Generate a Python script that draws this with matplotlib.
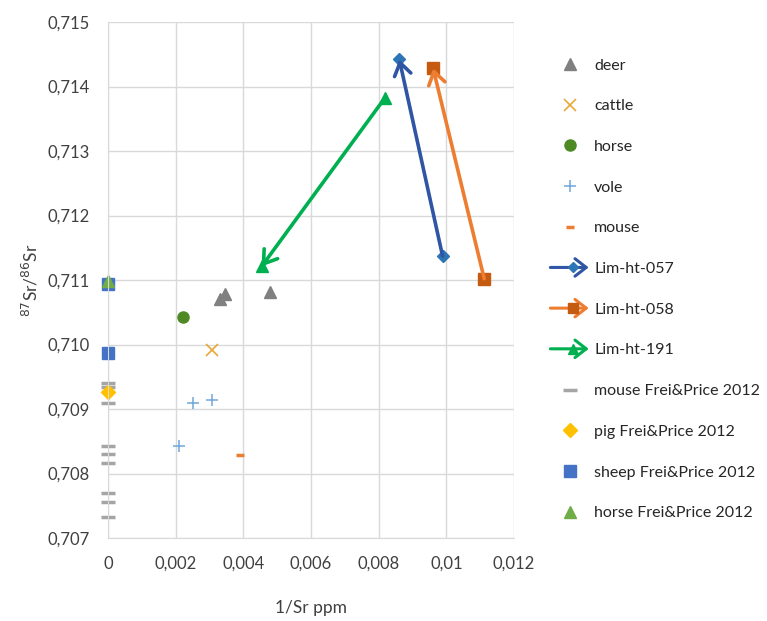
import matplotlib
matplotlib.use("Agg")
import matplotlib.pyplot as plt
from matplotlib.lines import Line2D
from matplotlib.patches import FancyArrowPatch
from matplotlib.ticker import MultipleLocator, FuncFormatter

plt.rcParams['font.family'] = ['Lato', 'DejaVu Sans']

# point samples (1/Sr ppm, 87Sr/86Sr)
deer_x = [0.00331, 0.00346, 0.00479]
deer_y = [0.71070, 0.71078, 0.71081]
cattle_x = [0.00306]
cattle_y = [0.70992]
horse_x = [0.00223]
horse_y = [0.71042]
vole_x = [0.00250, 0.00306, 0.00210]
vole_y = [0.70909, 0.70914, 0.70842]
mouse_x = [0.00390]
mouse_y = [0.70829]

# two-point series drawn as arrows (start -> end)
lim057_x = [0.00989, 0.00861]
lim057_y = [0.71137, 0.71442]
lim058_x = [0.01112, 0.00961]
lim058_y = [0.71102, 0.71428]
lim191_x = [0.00818, 0.00454]
lim191_y = [0.71382, 0.71121]

# Frei & Price 2012 reference values (all at x = 0)
fp_mouse_y = [0.70941, 0.70934, 0.70909, 0.70842, 0.70830, 0.70817,
              0.70769, 0.70756, 0.70732]
fp_pig_y = [0.70927]
fp_sheep_y = [0.71094, 0.70987]
fp_horse_y = [0.71098]


class ArrowHandler:
    def __init__(self, color, mcolor, marker, ms):
        self.color = color
        self.mcolor = mcolor
        self.marker = marker
        self.ms = ms

    def legend_artist(self, legend, orig_handle, fontsize, handlebox):
        x0, y0 = handlebox.xdescent, handlebox.ydescent
        w, h = handlebox.width, handlebox.height
        arr = FancyArrowPatch((x0, y0 + h / 2), (x0 + w, y0 + h / 2),
                              arrowstyle='->,head_length=0.45,head_width=0.35',
                              mutation_scale=18, color=self.color, lw=2.2,
                              shrinkA=0, shrinkB=0,
                              transform=handlebox.get_transform())
        mk = Line2D([x0 + w * 0.6], [y0 + h / 2], marker=self.marker,
                    color=self.mcolor, ms=self.ms * 0.9, linestyle='none',
                    transform=handlebox.get_transform())
        handlebox.add_artist(arr)
        handlebox.add_artist(mk)
        return arr


fig = plt.figure(figsize=(7.67, 6.21), dpi=100)
ax = fig.add_axes([108 / 767, 1 - 538 / 621, 406 / 767, 516 / 621])

ax.set_xlim(0, 0.012)
ax.set_ylim(0.707, 0.715)
ax.xaxis.set_major_locator(MultipleLocator(0.002))
ax.yaxis.set_major_locator(MultipleLocator(0.001))
ax.xaxis.set_major_formatter(FuncFormatter(lambda v, p: f"{v:g}".replace('.', ',')))
ax.yaxis.set_major_formatter(FuncFormatter(lambda v, p: f"{v:.3f}".replace('.', ',')))
ax.grid(True, color='#d9d9d9', lw=1)
ax.set_axisbelow(True)
for s in ['top', 'right']:
    ax.spines[s].set_visible(False)
for s in ['left', 'bottom']:
    ax.spines[s].set_color('#d9d9d9')
ax.tick_params(length=0, labelsize=12, colors='#404040', pad=13)

handles = []
h, = ax.plot(deer_x, deer_y, '^', color='#808080', ms=8, label='deer')
handles.append(h)
h, = ax.plot(cattle_x, cattle_y, 'x', color='#e8a838', ms=8, mew=1.2, label='cattle')
handles.append(h)
h, = ax.plot(horse_x, horse_y, 'o', color='#4e8a24', ms=8, label='horse')
handles.append(h)
h, = ax.plot(vole_x, vole_y, '+', color='#6fa8dc', ms=9, mew=1.1, label='vole')
handles.append(h)
h, = ax.plot(mouse_x, mouse_y, '_', color='#ed7d31', ms=6, mew=2.5, label='mouse')
handles.append(h)

arrow_specs = [
    (lim057_x, lim057_y, '#2f55a4', '#2e75b6', 'D', 6, 'Lim-ht-057'),
    (lim058_x, lim058_y, '#ed7d31', '#c55a11', 's', 8, 'Lim-ht-058'),
    (lim191_x, lim191_y, '#00b050', '#00b050', '^', 8, 'Lim-ht-191'),
]
handler_map = {}
for xs, ys, lc, mc, mk, ms, lab in arrow_specs:
    h, = ax.plot(xs, ys, linestyle='none', marker=mk, color=mc, ms=ms, label=lab,
                 zorder=3)
    ax.annotate('', xy=(xs[1], ys[1]), xytext=(xs[0], ys[0]),
                arrowprops=dict(arrowstyle='->,head_length=0.45,head_width=0.3',
                                color=lc, lw=2.6, shrinkA=0, shrinkB=0,
                                mutation_scale=20), zorder=4)
    handler_map[h] = ArrowHandler(lc, mc, mk, ms)
    handles.append(h)

h, = ax.plot([0] * len(fp_mouse_y), fp_mouse_y, '_', color='#a5a5a5', ms=10, mew=2.5,
             clip_on=False, label='mouse Frei&Price 2012')
handles.append(h)
h, = ax.plot([0] * len(fp_pig_y), fp_pig_y, 'D', color='#ffc000', ms=7,
             clip_on=False, label='pig Frei&Price 2012')
handles.append(h)
h, = ax.plot([0] * len(fp_sheep_y), fp_sheep_y, 's', color='#4472c4', ms=8,
             clip_on=False, label='sheep Frei&Price 2012')
handles.append(h)
h, = ax.plot([0] * len(fp_horse_y), fp_horse_y, '^', color='#70ad47', ms=8,
             clip_on=False, label='horse Frei&Price 2012')
handles.append(h)

ax.set_xlabel('1/Sr ppm', fontsize=12.5, color='#404040')
ax.set_ylabel(r'$^{87}$Sr/$^{86}$Sr', fontsize=12.5, color='#404040')
ax.xaxis.set_label_coords(0.5, -0.12)
ax.yaxis.set_label_coords(-0.167, 0.5)

fig.legend(handles=handles, handler_map=handler_map, loc='upper left',
           bbox_to_anchor=(536 / 767, 1 - 44 / 621), frameon=False,
           fontsize=11.5, labelspacing=1.66, handlelength=2.4, handletextpad=0.35,
           labelcolor='#262626')

fig.savefig('out.png', dpi=100)
